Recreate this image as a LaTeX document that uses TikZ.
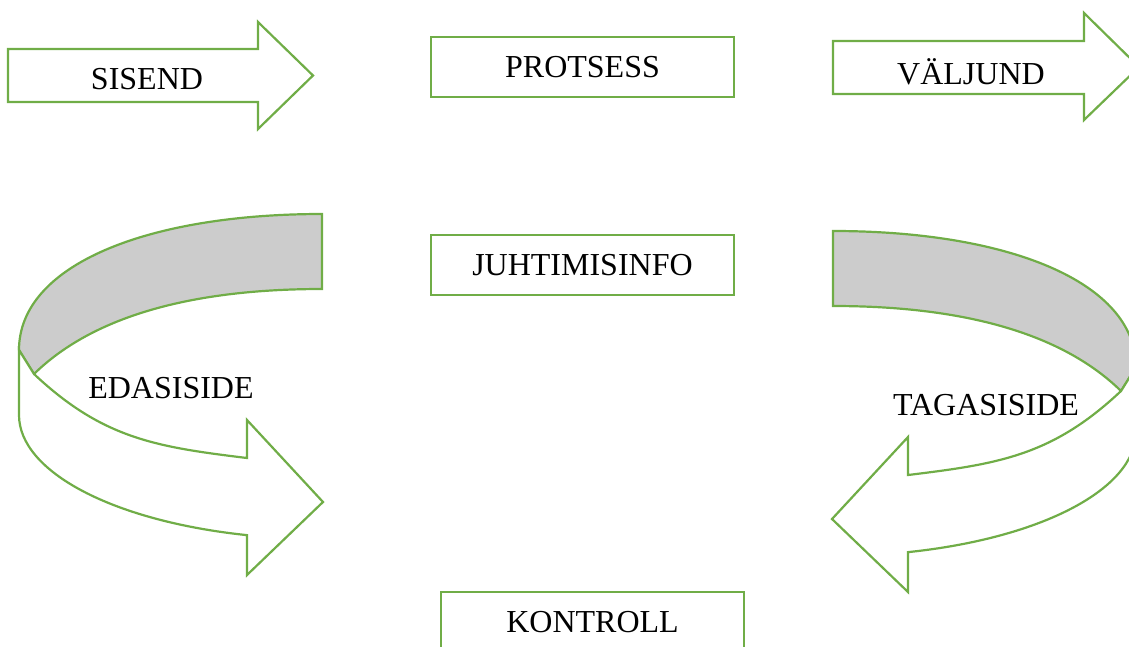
\documentclass[tikz,border=0pt]{standalone}
\usepackage{fontspec}
\setmainfont{Liberation Serif}
\definecolor{lgreen}{HTML}{70AD47}
\definecolor{bandgray}{HTML}{CCCCCC}
\tikzset{
  outl/.style={draw=lgreen, line width=2.2, line join=miter},
  lbl/.style={font=\fontsize{32}{38}\selectfont, inner sep=0},
  boxnode/.style={draw=lgreen, line width=2.2, minimum width=303, minimum height=60, font=\fontsize{32}{38}\selectfont},
  curvarrow/.pic={
    \path[outl, fill=bandgray] (0,0) .. controls (-175,0) and (-303,51) .. (-303,136)
      -- (-288,160) .. controls (-238,111) and (-150,75) .. (0,75) -- cycle;
    \path[outl, fill=white] (-303,136) -- (-303,201)
      arc[start angle=180, end angle=104.33, x radius=303, y radius=124]
      -- (-75,361) -- (1,288) -- (-75,206) -- (-75,244)
      .. controls (-165,233) and (-219,225) .. (-288,160) -- cycle;
  }
}
\begin{document}
\begin{tikzpicture}[x=1pt, y=-1pt]
\useasboundingbox (0,0) rectangle (1129,646);
\clip (0,0) rectangle (1129,646);
% top arrows
\draw[outl] (8,49) -- (258,49) -- (258,22) -- (313,75.5) -- (258,129) -- (258,102) -- (8,102) -- cycle;
\node[lbl] (sisend) at (147,79) {SISEND};
\draw[outl] (833,41) -- (1084,41) -- (1084,13) -- (1139,67) -- (1084,120) -- (1084,94) -- (833,94) -- cycle;
\node[lbl] (valjund) at (971,72) {VÄLJUND};
% boxes
\node[boxnode] (protsess) at (582.5,67) {PROTSESS};
\node[boxnode] (juhtimis) at (582.5,265) {JUHTIMISINFO};
\node[boxnode] (kontroll) at (592.5,622) {KONTROLL};
% curved arrows
\pic at (322,214) {curvarrow};
\pic[xscale=-1] at (833,231) {curvarrow};
\node[lbl] (edasiside) at (171,388) {EDASISIDE};
\node[lbl] (tagasiside) at (986,405) {TAGASISIDE};
\end{tikzpicture}
\end{document}
